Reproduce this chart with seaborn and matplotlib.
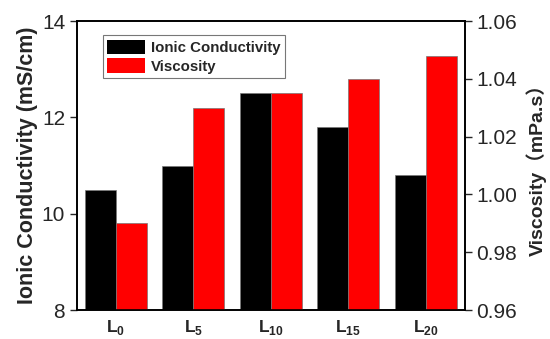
import numpy as np
import pandas as pd
import matplotlib
matplotlib.use("Agg")
import matplotlib.pyplot as plt
from matplotlib.patches import Patch
import seaborn as sns

# data
samples = ["L0", "L5", "L10", "L15", "L20"]
sub_labels = ["0", "5", "10", "15", "20"]
conductivity = [10.5, 11.0, 12.5, 11.8, 10.8]      # mS/cm
viscosity = [0.990, 1.030, 1.035, 1.040, 1.048]    # mPa.s

series = ["Ionic Conductivity", "Viscosity"]
colores = {"Ionic Conductivity": "black", "Viscosity": "red"}

sns.set_style("ticks")
plt.rcParams["font.family"] = ["Liberation Sans", "Noto Sans CJK SC", "DejaVu Sans"]
plt.rcParams["mathtext.fontset"] = "custom"
plt.rcParams["mathtext.bf"] = "Liberation Sans:bold"
plt.rcParams["mathtext.rm"] = "Liberation Sans"

# long tables: each axis only gets its own series, the other one stays NaN
df_cond = pd.DataFrame({
    "sample": samples * 2,
    "series": [series[0]] * 5 + [series[1]] * 5,
    "valor": conductivity + [np.nan] * 5,
})
df_visc = pd.DataFrame({
    "sample": samples * 2,
    "series": [series[0]] * 5 + [series[1]] * 5,
    "valor": [np.nan] * 5 + viscosity,
})

fig = plt.figure(figsize=(5.5, 3.39), dpi=100)
ax = fig.add_axes([0.14, 0.0855, 0.705, 0.8525])
ax2 = ax.twinx()

sns.barplot(data=df_cond, x="sample", y="valor", hue="series", hue_order=series,
            order=samples, palette=colores, saturation=1, width=0.8, ax=ax,
            legend=False, edgecolor="#777777", linewidth=0.5)
sns.barplot(data=df_visc, x="sample", y="valor", hue="series", hue_order=series,
            order=samples, palette=colores, saturation=1, width=0.8, ax=ax2,
            legend=False, edgecolor="#777777", linewidth=0.5)

ax.set_xlim(-0.5, 4.5)
ax.set_ylim(8, 14)
ax2.set_ylim(0.96, 1.06)

ax.set_yticks([8, 10, 12, 14])
ax2.set_yticks([0.96, 0.98, 1.00, 1.02, 1.04, 1.06])
ax2.set_yticklabels([f"{v:.2f}" for v in [0.96, 0.98, 1.00, 1.02, 1.04, 1.06]])

ax.set_xticks(range(len(samples)))
ax.set_xticklabels([r"$\mathbf{L}_{\mathbf{" + s + "}}$" for s in sub_labels], fontsize=12.5)
ax.tick_params(axis="x", length=0, pad=6)
ax.tick_params(axis="y", labelsize=15, direction="out", length=5, width=1)
ax2.tick_params(axis="y", labelsize=15, direction="out", length=5, width=1)

ax.set_xlabel("")
ax.set_ylabel("Ionic Conductivity (mS/cm)", fontsize=15.5, fontweight="bold", labelpad=3)
ax2.set_ylabel("Viscosity（mPa.s）", fontsize=14, fontweight="bold", labelpad=6)

for a in (ax, ax2):
    for sp in a.spines.values():
        sp.set_color("black")
        sp.set_linewidth(1.2)

handles = [Patch(facecolor=colores[s], edgecolor="none") for s in series]
leg = ax.legend(handles, series, loc="upper left", bbox_to_anchor=(0.066, 0.95),
                borderaxespad=0, prop={"weight": "bold", "size": 10.8}, frameon=True,
                fancybox=False, handlelength=2.5, handleheight=1.1, handletextpad=0.4,
                borderpad=0.3, labelspacing=0.2)
leg.get_frame().set_edgecolor("#555555")
leg.get_frame().set_linewidth(0.8)

fig.savefig("out.png", dpi=100)
plt.close(fig)
